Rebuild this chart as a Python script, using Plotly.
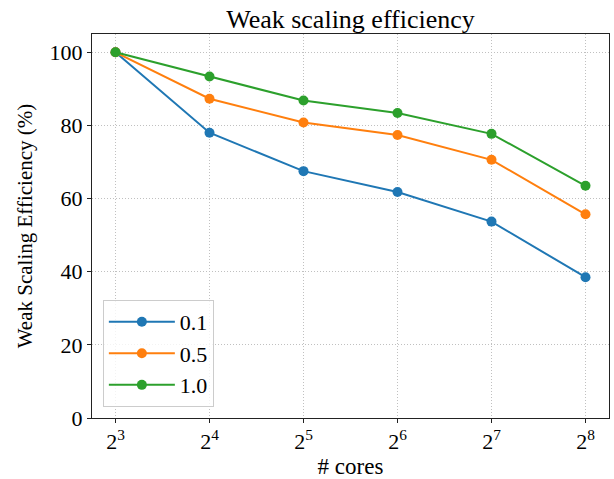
import math
import plotly.graph_objects as go

cores = [8, 16, 32, 64, 128, 256]
tick_labels = ["2<sup>3</sup>", "2<sup>4</sup>", "2<sup>5</sup>", "2<sup>6</sup>", "2<sup>7</sup>", "2<sup>8</sup>"]
y_ticks = [0, 20, 40, 60, 80, 100]
series_names = ["0.1", "0.5", "1.0"]
eff_01 = [100, 78.0, 67.5, 61.8, 53.7, 38.5]
eff_05 = [100, 87.3, 80.8, 77.4, 70.6, 55.7]
eff_10 = [100, 93.4, 86.8, 83.4, 77.7, 63.5]
colors = ["#1f77b4", "#ff7f0e", "#2ca02c"]

FONT = "Liberation Serif"

fig = go.Figure()
for name, vals, c in zip(series_names, [eff_01, eff_05, eff_10], colors):
    fig.add_trace(go.Scatter(
        x=cores, y=vals, name=name, mode="lines+markers",
        line=dict(color=c, width=2), marker=dict(color=c, size=10),
    ))

fig.update_layout(
    width=614, height=479,
    margin=dict(l=92, r=4, t=34, b=58),
    paper_bgcolor="white", plot_bgcolor="white",
    font=dict(family=FONT, size=22, color="black"),
    title=dict(text="Weak scaling efficiency", x=0.5, xanchor="center",
               xref="paper", y=0.96, yanchor="middle", font=dict(size=26)),
    showlegend=True,
    legend=dict(x=0.021, y=0.029, xanchor="left", yanchor="bottom",
                bgcolor="rgba(255,255,255,0.8)", bordercolor="#cccccc", borderwidth=1,
                font=dict(size=22), tracegroupgap=0, itemwidth=66),
)
fig.update_xaxes(
    type="log", range=[math.log10(2 ** 2.75), math.log10(2 ** 8.25)],
    tickvals=cores, ticktext=tick_labels,
    title=dict(text="# cores", standoff=4, font=dict(size=23)),
    showline=True, linecolor="#222222", linewidth=1, mirror=True,
    ticks="outside", ticklen=4, tickcolor="#222222",
    showgrid=True, gridcolor="#c0c0c0", griddash="1px,2px", gridwidth=1,
    zeroline=False,
)
fig.update_yaxes(
    range=[0, 105], tickvals=y_ticks,
    title=dict(text="Weak Scaling Efficiency (%)", standoff=11, font=dict(size=21)),
    showline=True, linecolor="#222222", linewidth=1, mirror=True,
    ticks="outside", ticklen=4, tickcolor="#222222",
    showgrid=True, gridcolor="#c0c0c0", griddash="1px,2px", gridwidth=1,
    zeroline=False,
)

fig.write_html("out.html", config={"displayModeBar": False},
               post_script="document.body.style.margin='0';")
